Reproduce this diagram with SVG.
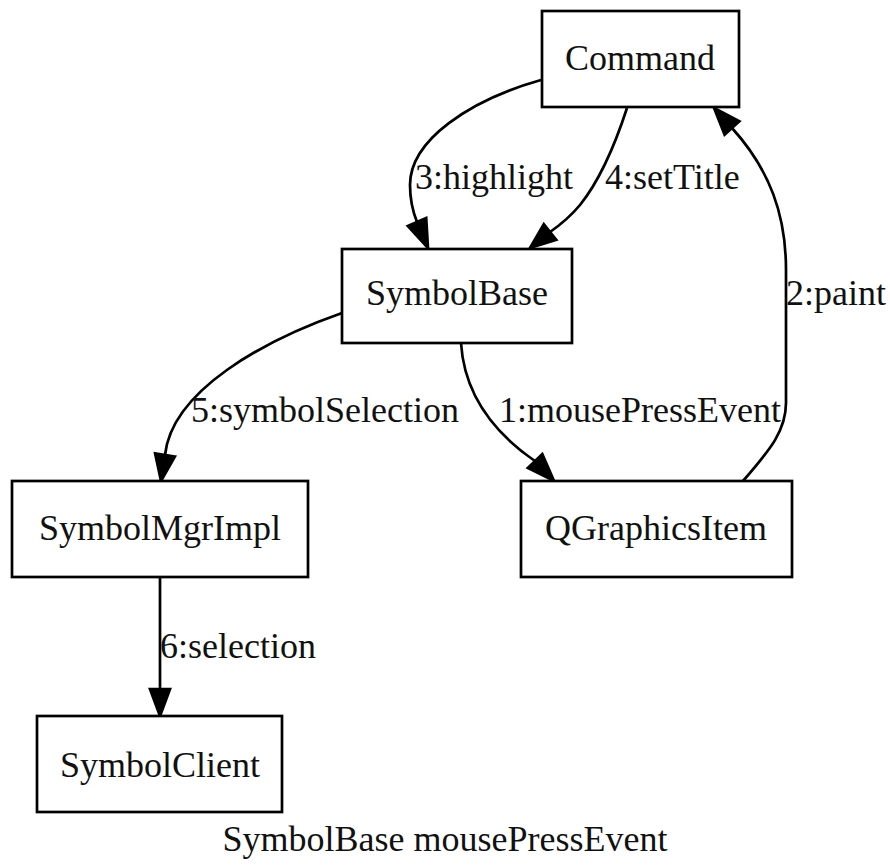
<svg xmlns="http://www.w3.org/2000/svg" width="890" height="865" viewBox="0 0 890 865">
<style>
.box{fill:#fff;stroke:#000;stroke-width:2.7}
.t{font-family:"Liberation Serif","Times New Roman",serif;font-size:36px;fill:#111}
.c{text-anchor:middle}
.e{fill:none;stroke:#000;stroke-width:2.7}
.a{fill:#000;stroke:#000;stroke-width:2.7}
</style>
<rect width="890" height="865" fill="#fff"/>
<g id="connectors">
<path class="e" d="M541,80 C470,100 410,140 410,185 C410,200 413,212 417,222"/>
<polygon class="a" points="407.8,225.9 426.2,218.1 428,248"/>
<text class="t" x="415" y="189">3:highlight</text>
<path class="e" d="M627,108 C615,145 600,180 580,205 C570,217 560,225 550,232"/>
<polygon class="a" points="556.3,239.8 543.8,224.2 530,248"/>
<text class="t" x="605" y="189">4:setTitle</text>
<path class="e" d="M461,343 C464,390 490,430 535,461"/>
<polygon class="a" points="527.8,467.9 542.3,454.1 554,481"/>
<text class="t" x="499" y="422">1:mousePressEvent</text>
<path class="e" d="M743,481 C770,450 787,430 786,400 L786,270 C786,215 770,170 732,128"/>
<polygon class="a" points="739.4,121.3 724.6,134.7 714,108"/>
<text class="t" x="786" y="305">2:paint</text>
<path class="e" d="M342,313 C265,340 172,390 165,455"/>
<polygon class="a" points="174.9,456.5 155.1,453.5 161,481"/>
<text class="t" x="191" y="422">5:symbolSelection</text>
<path class="e" d="M160,577 L160,689"/>
<polygon class="a" points="170,689 150,689 160,716"/>
<text class="t" x="160" y="658">6:selection</text>
</g>
<g id="Command"><rect class="box" x="542" y="11" width="197" height="96"/><text class="t c" x="640" y="70">Command</text></g>
<g id="SymbolBase"><rect class="box" x="342" y="249" width="230" height="94"/><text class="t c" x="457" y="305">SymbolBase</text></g>
<g id="SymbolMgrImpl"><rect class="box" x="12" y="481" width="296" height="96"/><text class="t c" x="160" y="540">SymbolMgrImpl</text></g>
<g id="QGraphicsItem"><rect class="box" x="521" y="481" width="271" height="96"/><text class="t c" x="656" y="540">QGraphicsItem</text></g>
<g id="SymbolClient"><rect class="box" x="37" y="716" width="245" height="96"/><text class="t c" x="160" y="777">SymbolClient</text></g>
<text class="t c" x="445" y="851">SymbolBase mousePressEvent</text>
</svg>
